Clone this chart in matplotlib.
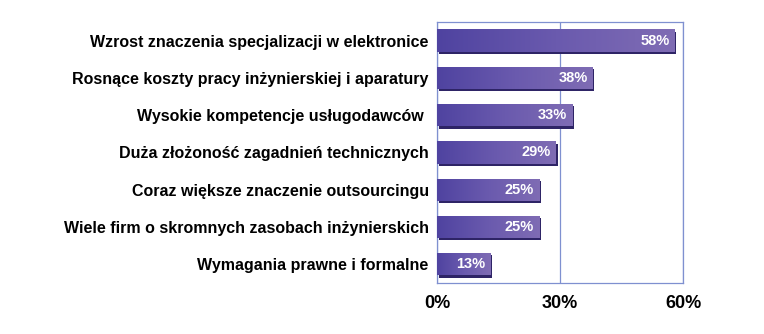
import matplotlib
matplotlib.use("Agg")
import matplotlib.pyplot as plt
import numpy as np
from matplotlib.colors import LinearSegmentedColormap

categories = [
    "Wzrost znaczenia specjalizacji w elektronice",
    "Rosnące koszty pracy inżynierskiej i aparatury",
    "Wysokie kompetencje usługodawców ",
    "Duża złożoność zagadnień technicznych",
    "Coraz większe znaczenie outsourcingu",
    "Wiele firm o skromnych zasobach inżynierskich",
    "Wymagania prawne i formalne",
]
values = [58, 38, 33, 29, 25, 25, 13]
xticks = [0, 30, 60]

plt.rcParams['font.family'] = ['Liberation Sans', 'DejaVu Sans']

fig = plt.figure(figsize=(7.64, 3.34), dpi=100)
ax = fig.add_axes([0.572, 0.153, 0.322, 0.781])

n = len(categories)
y = np.arange(n)[::-1]
h = 0.6

cmap = LinearSegmentedColormap.from_list("g", ["#4f43a0", "#6a5aae", "#7f6cb4"])
grad = np.linspace(0, 1, 256).reshape(1, -1)

# shadow bars
ax.barh(y - 0.06, values, height=h, left=0.4, color="#2e2466", zorder=2)
bars = ax.barh(y, values, height=h, color="#6858aa", zorder=3)
for b, v in zip(bars, values):
    x0, y0 = b.get_x(), b.get_y()
    im = ax.imshow(grad, cmap=cmap, aspect="auto", zorder=4,
                   extent=[x0, x0 + v, y0, y0 + h], interpolation="bicubic")
    im.set_clip_path(b)
    ax.text(v - 1.3, y0 + h / 2, f"{v}%", color="white", fontsize=10.5,
            fontweight="bold", ha="right", va="center", zorder=5)

ax.set_xlim(0, 60)
ax.set_ylim(-0.5, n - 0.5)
ax.set_xticks(xticks)
ax.set_xticklabels([f"{t}%" for t in xticks], fontsize=13, fontweight="bold")
ax.set_yticks(y)
ax.set_yticklabels(categories, fontsize=11.5, fontweight="bold")
ax.tick_params(axis="both", length=0, pad=6)
ax.tick_params(axis="x", pad=9)
ax.xaxis.grid(True, color="#7f90d0", linewidth=0.9, zorder=1)
ax.set_axisbelow(True)
for s in ax.spines.values():
    s.set_color("#7f90d0")
    s.set_linewidth(0.9)

fig.savefig("out.png", dpi=100)
